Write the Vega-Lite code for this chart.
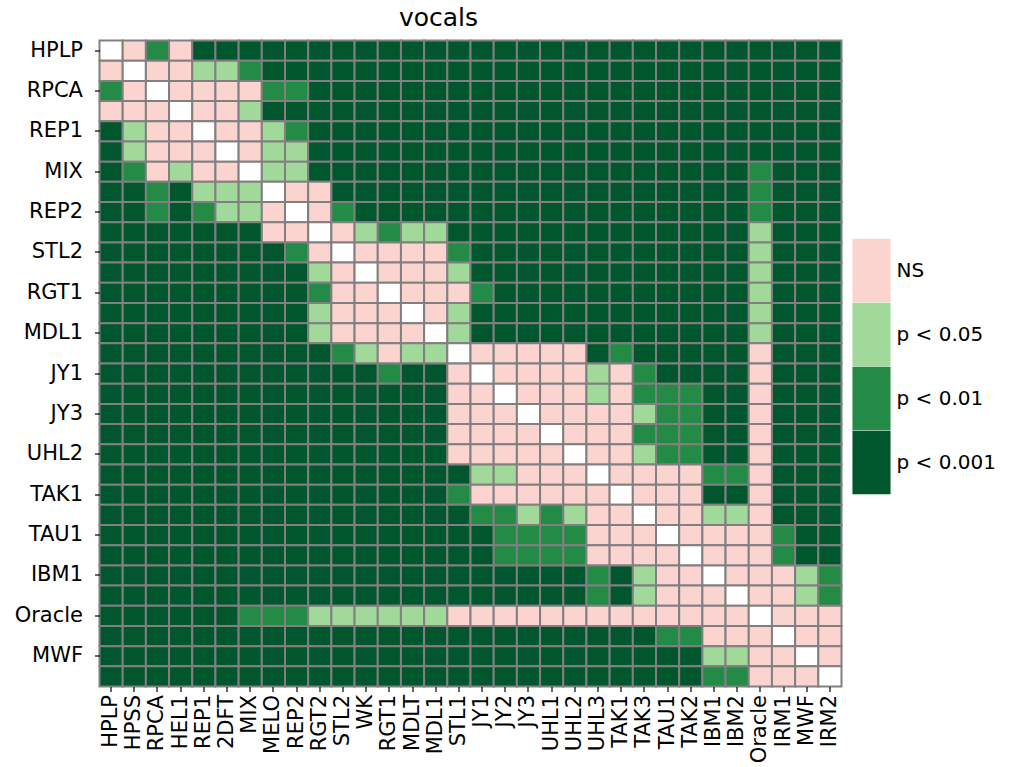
{
  "$schema": "https://vega.github.io/schema/vega-lite/v6.json",
  "width": 742,
  "height": 646,
  "autosize": {"type": "none"},
  "padding": {"left": 99.5, "top": 40.5, "right": 171.5, "bottom": 80.5},
  "background": "white",
  "config": {"view": {"stroke": null}, "font": "DejaVu Sans"},
  "title": {"text": "vocals", "fontSize": 25, "fontWeight": "normal", "color": "#000000", "font": "DejaVu Sans", "anchor": "middle", "offset": 8, "dx": -32},
  "data": {"values": [
    {"r":"HPLP","c":"HPLP","p":-1},{"r":"HPLP","c":"HPSS","p":0},{"r":"HPLP","c":"RPCA","p":2},{"r":"HPLP","c":"HEL1","p":0},{"r":"HPLP","c":"REP1","p":3},{"r":"HPLP","c":"2DFT","p":3},{"r":"HPLP","c":"MIX","p":3},{"r":"HPLP","c":"MELO","p":3},{"r":"HPLP","c":"REP2","p":3},{"r":"HPLP","c":"RGT2","p":3},{"r":"HPLP","c":"STL2","p":3},{"r":"HPLP","c":"WK","p":3},{"r":"HPLP","c":"RGT1","p":3},{"r":"HPLP","c":"MDLT","p":3},{"r":"HPLP","c":"MDL1","p":3},{"r":"HPLP","c":"STL1","p":3},{"r":"HPLP","c":"JY1","p":3},{"r":"HPLP","c":"JY2","p":3},{"r":"HPLP","c":"JY3","p":3},{"r":"HPLP","c":"UHL1","p":3},{"r":"HPLP","c":"UHL2","p":3},{"r":"HPLP","c":"UHL3","p":3},{"r":"HPLP","c":"TAK1","p":3},{"r":"HPLP","c":"TAK3","p":3},{"r":"HPLP","c":"TAU1","p":3},{"r":"HPLP","c":"TAK2","p":3},{"r":"HPLP","c":"IBM1","p":3},{"r":"HPLP","c":"IBM2","p":3},{"r":"HPLP","c":"Oracle","p":3},{"r":"HPLP","c":"IRM1","p":3},{"r":"HPLP","c":"MWF","p":3},{"r":"HPLP","c":"IRM2","p":3},
    {"r":"HPSS","c":"HPLP","p":0},{"r":"HPSS","c":"HPSS","p":-1},{"r":"HPSS","c":"RPCA","p":0},{"r":"HPSS","c":"HEL1","p":0},{"r":"HPSS","c":"REP1","p":1},{"r":"HPSS","c":"2DFT","p":1},{"r":"HPSS","c":"MIX","p":2},{"r":"HPSS","c":"MELO","p":3},{"r":"HPSS","c":"REP2","p":3},{"r":"HPSS","c":"RGT2","p":3},{"r":"HPSS","c":"STL2","p":3},{"r":"HPSS","c":"WK","p":3},{"r":"HPSS","c":"RGT1","p":3},{"r":"HPSS","c":"MDLT","p":3},{"r":"HPSS","c":"MDL1","p":3},{"r":"HPSS","c":"STL1","p":3},{"r":"HPSS","c":"JY1","p":3},{"r":"HPSS","c":"JY2","p":3},{"r":"HPSS","c":"JY3","p":3},{"r":"HPSS","c":"UHL1","p":3},{"r":"HPSS","c":"UHL2","p":3},{"r":"HPSS","c":"UHL3","p":3},{"r":"HPSS","c":"TAK1","p":3},{"r":"HPSS","c":"TAK3","p":3},{"r":"HPSS","c":"TAU1","p":3},{"r":"HPSS","c":"TAK2","p":3},{"r":"HPSS","c":"IBM1","p":3},{"r":"HPSS","c":"IBM2","p":3},{"r":"HPSS","c":"Oracle","p":3},{"r":"HPSS","c":"IRM1","p":3},{"r":"HPSS","c":"MWF","p":3},{"r":"HPSS","c":"IRM2","p":3},
    {"r":"RPCA","c":"HPLP","p":2},{"r":"RPCA","c":"HPSS","p":0},{"r":"RPCA","c":"RPCA","p":-1},{"r":"RPCA","c":"HEL1","p":0},{"r":"RPCA","c":"REP1","p":0},{"r":"RPCA","c":"2DFT","p":0},{"r":"RPCA","c":"MIX","p":0},{"r":"RPCA","c":"MELO","p":2},{"r":"RPCA","c":"REP2","p":2},{"r":"RPCA","c":"RGT2","p":3},{"r":"RPCA","c":"STL2","p":3},{"r":"RPCA","c":"WK","p":3},{"r":"RPCA","c":"RGT1","p":3},{"r":"RPCA","c":"MDLT","p":3},{"r":"RPCA","c":"MDL1","p":3},{"r":"RPCA","c":"STL1","p":3},{"r":"RPCA","c":"JY1","p":3},{"r":"RPCA","c":"JY2","p":3},{"r":"RPCA","c":"JY3","p":3},{"r":"RPCA","c":"UHL1","p":3},{"r":"RPCA","c":"UHL2","p":3},{"r":"RPCA","c":"UHL3","p":3},{"r":"RPCA","c":"TAK1","p":3},{"r":"RPCA","c":"TAK3","p":3},{"r":"RPCA","c":"TAU1","p":3},{"r":"RPCA","c":"TAK2","p":3},{"r":"RPCA","c":"IBM1","p":3},{"r":"RPCA","c":"IBM2","p":3},{"r":"RPCA","c":"Oracle","p":3},{"r":"RPCA","c":"IRM1","p":3},{"r":"RPCA","c":"MWF","p":3},{"r":"RPCA","c":"IRM2","p":3},
    {"r":"HEL1","c":"HPLP","p":0},{"r":"HEL1","c":"HPSS","p":0},{"r":"HEL1","c":"RPCA","p":0},{"r":"HEL1","c":"HEL1","p":-1},{"r":"HEL1","c":"REP1","p":0},{"r":"HEL1","c":"2DFT","p":0},{"r":"HEL1","c":"MIX","p":1},{"r":"HEL1","c":"MELO","p":3},{"r":"HEL1","c":"REP2","p":3},{"r":"HEL1","c":"RGT2","p":3},{"r":"HEL1","c":"STL2","p":3},{"r":"HEL1","c":"WK","p":3},{"r":"HEL1","c":"RGT1","p":3},{"r":"HEL1","c":"MDLT","p":3},{"r":"HEL1","c":"MDL1","p":3},{"r":"HEL1","c":"STL1","p":3},{"r":"HEL1","c":"JY1","p":3},{"r":"HEL1","c":"JY2","p":3},{"r":"HEL1","c":"JY3","p":3},{"r":"HEL1","c":"UHL1","p":3},{"r":"HEL1","c":"UHL2","p":3},{"r":"HEL1","c":"UHL3","p":3},{"r":"HEL1","c":"TAK1","p":3},{"r":"HEL1","c":"TAK3","p":3},{"r":"HEL1","c":"TAU1","p":3},{"r":"HEL1","c":"TAK2","p":3},{"r":"HEL1","c":"IBM1","p":3},{"r":"HEL1","c":"IBM2","p":3},{"r":"HEL1","c":"Oracle","p":3},{"r":"HEL1","c":"IRM1","p":3},{"r":"HEL1","c":"MWF","p":3},{"r":"HEL1","c":"IRM2","p":3},
    {"r":"REP1","c":"HPLP","p":3},{"r":"REP1","c":"HPSS","p":1},{"r":"REP1","c":"RPCA","p":0},{"r":"REP1","c":"HEL1","p":0},{"r":"REP1","c":"REP1","p":-1},{"r":"REP1","c":"2DFT","p":0},{"r":"REP1","c":"MIX","p":0},{"r":"REP1","c":"MELO","p":1},{"r":"REP1","c":"REP2","p":2},{"r":"REP1","c":"RGT2","p":3},{"r":"REP1","c":"STL2","p":3},{"r":"REP1","c":"WK","p":3},{"r":"REP1","c":"RGT1","p":3},{"r":"REP1","c":"MDLT","p":3},{"r":"REP1","c":"MDL1","p":3},{"r":"REP1","c":"STL1","p":3},{"r":"REP1","c":"JY1","p":3},{"r":"REP1","c":"JY2","p":3},{"r":"REP1","c":"JY3","p":3},{"r":"REP1","c":"UHL1","p":3},{"r":"REP1","c":"UHL2","p":3},{"r":"REP1","c":"UHL3","p":3},{"r":"REP1","c":"TAK1","p":3},{"r":"REP1","c":"TAK3","p":3},{"r":"REP1","c":"TAU1","p":3},{"r":"REP1","c":"TAK2","p":3},{"r":"REP1","c":"IBM1","p":3},{"r":"REP1","c":"IBM2","p":3},{"r":"REP1","c":"Oracle","p":3},{"r":"REP1","c":"IRM1","p":3},{"r":"REP1","c":"MWF","p":3},{"r":"REP1","c":"IRM2","p":3},
    {"r":"2DFT","c":"HPLP","p":3},{"r":"2DFT","c":"HPSS","p":1},{"r":"2DFT","c":"RPCA","p":0},{"r":"2DFT","c":"HEL1","p":0},{"r":"2DFT","c":"REP1","p":0},{"r":"2DFT","c":"2DFT","p":-1},{"r":"2DFT","c":"MIX","p":0},{"r":"2DFT","c":"MELO","p":1},{"r":"2DFT","c":"REP2","p":1},{"r":"2DFT","c":"RGT2","p":3},{"r":"2DFT","c":"STL2","p":3},{"r":"2DFT","c":"WK","p":3},{"r":"2DFT","c":"RGT1","p":3},{"r":"2DFT","c":"MDLT","p":3},{"r":"2DFT","c":"MDL1","p":3},{"r":"2DFT","c":"STL1","p":3},{"r":"2DFT","c":"JY1","p":3},{"r":"2DFT","c":"JY2","p":3},{"r":"2DFT","c":"JY3","p":3},{"r":"2DFT","c":"UHL1","p":3},{"r":"2DFT","c":"UHL2","p":3},{"r":"2DFT","c":"UHL3","p":3},{"r":"2DFT","c":"TAK1","p":3},{"r":"2DFT","c":"TAK3","p":3},{"r":"2DFT","c":"TAU1","p":3},{"r":"2DFT","c":"TAK2","p":3},{"r":"2DFT","c":"IBM1","p":3},{"r":"2DFT","c":"IBM2","p":3},{"r":"2DFT","c":"Oracle","p":3},{"r":"2DFT","c":"IRM1","p":3},{"r":"2DFT","c":"MWF","p":3},{"r":"2DFT","c":"IRM2","p":3},
    {"r":"MIX","c":"HPLP","p":3},{"r":"MIX","c":"HPSS","p":2},{"r":"MIX","c":"RPCA","p":0},{"r":"MIX","c":"HEL1","p":1},{"r":"MIX","c":"REP1","p":0},{"r":"MIX","c":"2DFT","p":0},{"r":"MIX","c":"MIX","p":-1},{"r":"MIX","c":"MELO","p":1},{"r":"MIX","c":"REP2","p":1},{"r":"MIX","c":"RGT2","p":3},{"r":"MIX","c":"STL2","p":3},{"r":"MIX","c":"WK","p":3},{"r":"MIX","c":"RGT1","p":3},{"r":"MIX","c":"MDLT","p":3},{"r":"MIX","c":"MDL1","p":3},{"r":"MIX","c":"STL1","p":3},{"r":"MIX","c":"JY1","p":3},{"r":"MIX","c":"JY2","p":3},{"r":"MIX","c":"JY3","p":3},{"r":"MIX","c":"UHL1","p":3},{"r":"MIX","c":"UHL2","p":3},{"r":"MIX","c":"UHL3","p":3},{"r":"MIX","c":"TAK1","p":3},{"r":"MIX","c":"TAK3","p":3},{"r":"MIX","c":"TAU1","p":3},{"r":"MIX","c":"TAK2","p":3},{"r":"MIX","c":"IBM1","p":3},{"r":"MIX","c":"IBM2","p":3},{"r":"MIX","c":"Oracle","p":2},{"r":"MIX","c":"IRM1","p":3},{"r":"MIX","c":"MWF","p":3},{"r":"MIX","c":"IRM2","p":3},
    {"r":"MELO","c":"HPLP","p":3},{"r":"MELO","c":"HPSS","p":3},{"r":"MELO","c":"RPCA","p":2},{"r":"MELO","c":"HEL1","p":3},{"r":"MELO","c":"REP1","p":1},{"r":"MELO","c":"2DFT","p":1},{"r":"MELO","c":"MIX","p":1},{"r":"MELO","c":"MELO","p":-1},{"r":"MELO","c":"REP2","p":0},{"r":"MELO","c":"RGT2","p":0},{"r":"MELO","c":"STL2","p":3},{"r":"MELO","c":"WK","p":3},{"r":"MELO","c":"RGT1","p":3},{"r":"MELO","c":"MDLT","p":3},{"r":"MELO","c":"MDL1","p":3},{"r":"MELO","c":"STL1","p":3},{"r":"MELO","c":"JY1","p":3},{"r":"MELO","c":"JY2","p":3},{"r":"MELO","c":"JY3","p":3},{"r":"MELO","c":"UHL1","p":3},{"r":"MELO","c":"UHL2","p":3},{"r":"MELO","c":"UHL3","p":3},{"r":"MELO","c":"TAK1","p":3},{"r":"MELO","c":"TAK3","p":3},{"r":"MELO","c":"TAU1","p":3},{"r":"MELO","c":"TAK2","p":3},{"r":"MELO","c":"IBM1","p":3},{"r":"MELO","c":"IBM2","p":3},{"r":"MELO","c":"Oracle","p":2},{"r":"MELO","c":"IRM1","p":3},{"r":"MELO","c":"MWF","p":3},{"r":"MELO","c":"IRM2","p":3},
    {"r":"REP2","c":"HPLP","p":3},{"r":"REP2","c":"HPSS","p":3},{"r":"REP2","c":"RPCA","p":2},{"r":"REP2","c":"HEL1","p":3},{"r":"REP2","c":"REP1","p":2},{"r":"REP2","c":"2DFT","p":1},{"r":"REP2","c":"MIX","p":1},{"r":"REP2","c":"MELO","p":0},{"r":"REP2","c":"REP2","p":-1},{"r":"REP2","c":"RGT2","p":0},{"r":"REP2","c":"STL2","p":2},{"r":"REP2","c":"WK","p":3},{"r":"REP2","c":"RGT1","p":3},{"r":"REP2","c":"MDLT","p":3},{"r":"REP2","c":"MDL1","p":3},{"r":"REP2","c":"STL1","p":3},{"r":"REP2","c":"JY1","p":3},{"r":"REP2","c":"JY2","p":3},{"r":"REP2","c":"JY3","p":3},{"r":"REP2","c":"UHL1","p":3},{"r":"REP2","c":"UHL2","p":3},{"r":"REP2","c":"UHL3","p":3},{"r":"REP2","c":"TAK1","p":3},{"r":"REP2","c":"TAK3","p":3},{"r":"REP2","c":"TAU1","p":3},{"r":"REP2","c":"TAK2","p":3},{"r":"REP2","c":"IBM1","p":3},{"r":"REP2","c":"IBM2","p":3},{"r":"REP2","c":"Oracle","p":2},{"r":"REP2","c":"IRM1","p":3},{"r":"REP2","c":"MWF","p":3},{"r":"REP2","c":"IRM2","p":3},
    {"r":"RGT2","c":"HPLP","p":3},{"r":"RGT2","c":"HPSS","p":3},{"r":"RGT2","c":"RPCA","p":3},{"r":"RGT2","c":"HEL1","p":3},{"r":"RGT2","c":"REP1","p":3},{"r":"RGT2","c":"2DFT","p":3},{"r":"RGT2","c":"MIX","p":3},{"r":"RGT2","c":"MELO","p":0},{"r":"RGT2","c":"REP2","p":0},{"r":"RGT2","c":"RGT2","p":-1},{"r":"RGT2","c":"STL2","p":0},{"r":"RGT2","c":"WK","p":1},{"r":"RGT2","c":"RGT1","p":2},{"r":"RGT2","c":"MDLT","p":1},{"r":"RGT2","c":"MDL1","p":1},{"r":"RGT2","c":"STL1","p":3},{"r":"RGT2","c":"JY1","p":3},{"r":"RGT2","c":"JY2","p":3},{"r":"RGT2","c":"JY3","p":3},{"r":"RGT2","c":"UHL1","p":3},{"r":"RGT2","c":"UHL2","p":3},{"r":"RGT2","c":"UHL3","p":3},{"r":"RGT2","c":"TAK1","p":3},{"r":"RGT2","c":"TAK3","p":3},{"r":"RGT2","c":"TAU1","p":3},{"r":"RGT2","c":"TAK2","p":3},{"r":"RGT2","c":"IBM1","p":3},{"r":"RGT2","c":"IBM2","p":3},{"r":"RGT2","c":"Oracle","p":1},{"r":"RGT2","c":"IRM1","p":3},{"r":"RGT2","c":"MWF","p":3},{"r":"RGT2","c":"IRM2","p":3},
    {"r":"STL2","c":"HPLP","p":3},{"r":"STL2","c":"HPSS","p":3},{"r":"STL2","c":"RPCA","p":3},{"r":"STL2","c":"HEL1","p":3},{"r":"STL2","c":"REP1","p":3},{"r":"STL2","c":"2DFT","p":3},{"r":"STL2","c":"MIX","p":3},{"r":"STL2","c":"MELO","p":3},{"r":"STL2","c":"REP2","p":2},{"r":"STL2","c":"RGT2","p":0},{"r":"STL2","c":"STL2","p":-1},{"r":"STL2","c":"WK","p":0},{"r":"STL2","c":"RGT1","p":0},{"r":"STL2","c":"MDLT","p":0},{"r":"STL2","c":"MDL1","p":0},{"r":"STL2","c":"STL1","p":2},{"r":"STL2","c":"JY1","p":3},{"r":"STL2","c":"JY2","p":3},{"r":"STL2","c":"JY3","p":3},{"r":"STL2","c":"UHL1","p":3},{"r":"STL2","c":"UHL2","p":3},{"r":"STL2","c":"UHL3","p":3},{"r":"STL2","c":"TAK1","p":3},{"r":"STL2","c":"TAK3","p":3},{"r":"STL2","c":"TAU1","p":3},{"r":"STL2","c":"TAK2","p":3},{"r":"STL2","c":"IBM1","p":3},{"r":"STL2","c":"IBM2","p":3},{"r":"STL2","c":"Oracle","p":1},{"r":"STL2","c":"IRM1","p":3},{"r":"STL2","c":"MWF","p":3},{"r":"STL2","c":"IRM2","p":3},
    {"r":"WK","c":"HPLP","p":3},{"r":"WK","c":"HPSS","p":3},{"r":"WK","c":"RPCA","p":3},{"r":"WK","c":"HEL1","p":3},{"r":"WK","c":"REP1","p":3},{"r":"WK","c":"2DFT","p":3},{"r":"WK","c":"MIX","p":3},{"r":"WK","c":"MELO","p":3},{"r":"WK","c":"REP2","p":3},{"r":"WK","c":"RGT2","p":1},{"r":"WK","c":"STL2","p":0},{"r":"WK","c":"WK","p":-1},{"r":"WK","c":"RGT1","p":0},{"r":"WK","c":"MDLT","p":0},{"r":"WK","c":"MDL1","p":0},{"r":"WK","c":"STL1","p":1},{"r":"WK","c":"JY1","p":3},{"r":"WK","c":"JY2","p":3},{"r":"WK","c":"JY3","p":3},{"r":"WK","c":"UHL1","p":3},{"r":"WK","c":"UHL2","p":3},{"r":"WK","c":"UHL3","p":3},{"r":"WK","c":"TAK1","p":3},{"r":"WK","c":"TAK3","p":3},{"r":"WK","c":"TAU1","p":3},{"r":"WK","c":"TAK2","p":3},{"r":"WK","c":"IBM1","p":3},{"r":"WK","c":"IBM2","p":3},{"r":"WK","c":"Oracle","p":1},{"r":"WK","c":"IRM1","p":3},{"r":"WK","c":"MWF","p":3},{"r":"WK","c":"IRM2","p":3},
    {"r":"RGT1","c":"HPLP","p":3},{"r":"RGT1","c":"HPSS","p":3},{"r":"RGT1","c":"RPCA","p":3},{"r":"RGT1","c":"HEL1","p":3},{"r":"RGT1","c":"REP1","p":3},{"r":"RGT1","c":"2DFT","p":3},{"r":"RGT1","c":"MIX","p":3},{"r":"RGT1","c":"MELO","p":3},{"r":"RGT1","c":"REP2","p":3},{"r":"RGT1","c":"RGT2","p":2},{"r":"RGT1","c":"STL2","p":0},{"r":"RGT1","c":"WK","p":0},{"r":"RGT1","c":"RGT1","p":-1},{"r":"RGT1","c":"MDLT","p":0},{"r":"RGT1","c":"MDL1","p":0},{"r":"RGT1","c":"STL1","p":0},{"r":"RGT1","c":"JY1","p":2},{"r":"RGT1","c":"JY2","p":3},{"r":"RGT1","c":"JY3","p":3},{"r":"RGT1","c":"UHL1","p":3},{"r":"RGT1","c":"UHL2","p":3},{"r":"RGT1","c":"UHL3","p":3},{"r":"RGT1","c":"TAK1","p":3},{"r":"RGT1","c":"TAK3","p":3},{"r":"RGT1","c":"TAU1","p":3},{"r":"RGT1","c":"TAK2","p":3},{"r":"RGT1","c":"IBM1","p":3},{"r":"RGT1","c":"IBM2","p":3},{"r":"RGT1","c":"Oracle","p":1},{"r":"RGT1","c":"IRM1","p":3},{"r":"RGT1","c":"MWF","p":3},{"r":"RGT1","c":"IRM2","p":3},
    {"r":"MDLT","c":"HPLP","p":3},{"r":"MDLT","c":"HPSS","p":3},{"r":"MDLT","c":"RPCA","p":3},{"r":"MDLT","c":"HEL1","p":3},{"r":"MDLT","c":"REP1","p":3},{"r":"MDLT","c":"2DFT","p":3},{"r":"MDLT","c":"MIX","p":3},{"r":"MDLT","c":"MELO","p":3},{"r":"MDLT","c":"REP2","p":3},{"r":"MDLT","c":"RGT2","p":1},{"r":"MDLT","c":"STL2","p":0},{"r":"MDLT","c":"WK","p":0},{"r":"MDLT","c":"RGT1","p":0},{"r":"MDLT","c":"MDLT","p":-1},{"r":"MDLT","c":"MDL1","p":0},{"r":"MDLT","c":"STL1","p":1},{"r":"MDLT","c":"JY1","p":3},{"r":"MDLT","c":"JY2","p":3},{"r":"MDLT","c":"JY3","p":3},{"r":"MDLT","c":"UHL1","p":3},{"r":"MDLT","c":"UHL2","p":3},{"r":"MDLT","c":"UHL3","p":3},{"r":"MDLT","c":"TAK1","p":3},{"r":"MDLT","c":"TAK3","p":3},{"r":"MDLT","c":"TAU1","p":3},{"r":"MDLT","c":"TAK2","p":3},{"r":"MDLT","c":"IBM1","p":3},{"r":"MDLT","c":"IBM2","p":3},{"r":"MDLT","c":"Oracle","p":1},{"r":"MDLT","c":"IRM1","p":3},{"r":"MDLT","c":"MWF","p":3},{"r":"MDLT","c":"IRM2","p":3},
    {"r":"MDL1","c":"HPLP","p":3},{"r":"MDL1","c":"HPSS","p":3},{"r":"MDL1","c":"RPCA","p":3},{"r":"MDL1","c":"HEL1","p":3},{"r":"MDL1","c":"REP1","p":3},{"r":"MDL1","c":"2DFT","p":3},{"r":"MDL1","c":"MIX","p":3},{"r":"MDL1","c":"MELO","p":3},{"r":"MDL1","c":"REP2","p":3},{"r":"MDL1","c":"RGT2","p":1},{"r":"MDL1","c":"STL2","p":0},{"r":"MDL1","c":"WK","p":0},{"r":"MDL1","c":"RGT1","p":0},{"r":"MDL1","c":"MDLT","p":0},{"r":"MDL1","c":"MDL1","p":-1},{"r":"MDL1","c":"STL1","p":1},{"r":"MDL1","c":"JY1","p":3},{"r":"MDL1","c":"JY2","p":3},{"r":"MDL1","c":"JY3","p":3},{"r":"MDL1","c":"UHL1","p":3},{"r":"MDL1","c":"UHL2","p":3},{"r":"MDL1","c":"UHL3","p":3},{"r":"MDL1","c":"TAK1","p":3},{"r":"MDL1","c":"TAK3","p":3},{"r":"MDL1","c":"TAU1","p":3},{"r":"MDL1","c":"TAK2","p":3},{"r":"MDL1","c":"IBM1","p":3},{"r":"MDL1","c":"IBM2","p":3},{"r":"MDL1","c":"Oracle","p":1},{"r":"MDL1","c":"IRM1","p":3},{"r":"MDL1","c":"MWF","p":3},{"r":"MDL1","c":"IRM2","p":3},
    {"r":"STL1","c":"HPLP","p":3},{"r":"STL1","c":"HPSS","p":3},{"r":"STL1","c":"RPCA","p":3},{"r":"STL1","c":"HEL1","p":3},{"r":"STL1","c":"REP1","p":3},{"r":"STL1","c":"2DFT","p":3},{"r":"STL1","c":"MIX","p":3},{"r":"STL1","c":"MELO","p":3},{"r":"STL1","c":"REP2","p":3},{"r":"STL1","c":"RGT2","p":3},{"r":"STL1","c":"STL2","p":2},{"r":"STL1","c":"WK","p":1},{"r":"STL1","c":"RGT1","p":0},{"r":"STL1","c":"MDLT","p":1},{"r":"STL1","c":"MDL1","p":1},{"r":"STL1","c":"STL1","p":-1},{"r":"STL1","c":"JY1","p":0},{"r":"STL1","c":"JY2","p":0},{"r":"STL1","c":"JY3","p":0},{"r":"STL1","c":"UHL1","p":0},{"r":"STL1","c":"UHL2","p":0},{"r":"STL1","c":"UHL3","p":3},{"r":"STL1","c":"TAK1","p":2},{"r":"STL1","c":"TAK3","p":3},{"r":"STL1","c":"TAU1","p":3},{"r":"STL1","c":"TAK2","p":3},{"r":"STL1","c":"IBM1","p":3},{"r":"STL1","c":"IBM2","p":3},{"r":"STL1","c":"Oracle","p":0},{"r":"STL1","c":"IRM1","p":3},{"r":"STL1","c":"MWF","p":3},{"r":"STL1","c":"IRM2","p":3},
    {"r":"JY1","c":"HPLP","p":3},{"r":"JY1","c":"HPSS","p":3},{"r":"JY1","c":"RPCA","p":3},{"r":"JY1","c":"HEL1","p":3},{"r":"JY1","c":"REP1","p":3},{"r":"JY1","c":"2DFT","p":3},{"r":"JY1","c":"MIX","p":3},{"r":"JY1","c":"MELO","p":3},{"r":"JY1","c":"REP2","p":3},{"r":"JY1","c":"RGT2","p":3},{"r":"JY1","c":"STL2","p":3},{"r":"JY1","c":"WK","p":3},{"r":"JY1","c":"RGT1","p":2},{"r":"JY1","c":"MDLT","p":3},{"r":"JY1","c":"MDL1","p":3},{"r":"JY1","c":"STL1","p":0},{"r":"JY1","c":"JY1","p":-1},{"r":"JY1","c":"JY2","p":0},{"r":"JY1","c":"JY3","p":0},{"r":"JY1","c":"UHL1","p":0},{"r":"JY1","c":"UHL2","p":0},{"r":"JY1","c":"UHL3","p":1},{"r":"JY1","c":"TAK1","p":0},{"r":"JY1","c":"TAK3","p":2},{"r":"JY1","c":"TAU1","p":3},{"r":"JY1","c":"TAK2","p":3},{"r":"JY1","c":"IBM1","p":3},{"r":"JY1","c":"IBM2","p":3},{"r":"JY1","c":"Oracle","p":0},{"r":"JY1","c":"IRM1","p":3},{"r":"JY1","c":"MWF","p":3},{"r":"JY1","c":"IRM2","p":3},
    {"r":"JY2","c":"HPLP","p":3},{"r":"JY2","c":"HPSS","p":3},{"r":"JY2","c":"RPCA","p":3},{"r":"JY2","c":"HEL1","p":3},{"r":"JY2","c":"REP1","p":3},{"r":"JY2","c":"2DFT","p":3},{"r":"JY2","c":"MIX","p":3},{"r":"JY2","c":"MELO","p":3},{"r":"JY2","c":"REP2","p":3},{"r":"JY2","c":"RGT2","p":3},{"r":"JY2","c":"STL2","p":3},{"r":"JY2","c":"WK","p":3},{"r":"JY2","c":"RGT1","p":3},{"r":"JY2","c":"MDLT","p":3},{"r":"JY2","c":"MDL1","p":3},{"r":"JY2","c":"STL1","p":0},{"r":"JY2","c":"JY1","p":0},{"r":"JY2","c":"JY2","p":-1},{"r":"JY2","c":"JY3","p":0},{"r":"JY2","c":"UHL1","p":0},{"r":"JY2","c":"UHL2","p":0},{"r":"JY2","c":"UHL3","p":1},{"r":"JY2","c":"TAK1","p":0},{"r":"JY2","c":"TAK3","p":2},{"r":"JY2","c":"TAU1","p":2},{"r":"JY2","c":"TAK2","p":2},{"r":"JY2","c":"IBM1","p":3},{"r":"JY2","c":"IBM2","p":3},{"r":"JY2","c":"Oracle","p":0},{"r":"JY2","c":"IRM1","p":3},{"r":"JY2","c":"MWF","p":3},{"r":"JY2","c":"IRM2","p":3},
    {"r":"JY3","c":"HPLP","p":3},{"r":"JY3","c":"HPSS","p":3},{"r":"JY3","c":"RPCA","p":3},{"r":"JY3","c":"HEL1","p":3},{"r":"JY3","c":"REP1","p":3},{"r":"JY3","c":"2DFT","p":3},{"r":"JY3","c":"MIX","p":3},{"r":"JY3","c":"MELO","p":3},{"r":"JY3","c":"REP2","p":3},{"r":"JY3","c":"RGT2","p":3},{"r":"JY3","c":"STL2","p":3},{"r":"JY3","c":"WK","p":3},{"r":"JY3","c":"RGT1","p":3},{"r":"JY3","c":"MDLT","p":3},{"r":"JY3","c":"MDL1","p":3},{"r":"JY3","c":"STL1","p":0},{"r":"JY3","c":"JY1","p":0},{"r":"JY3","c":"JY2","p":0},{"r":"JY3","c":"JY3","p":-1},{"r":"JY3","c":"UHL1","p":0},{"r":"JY3","c":"UHL2","p":0},{"r":"JY3","c":"UHL3","p":0},{"r":"JY3","c":"TAK1","p":0},{"r":"JY3","c":"TAK3","p":1},{"r":"JY3","c":"TAU1","p":2},{"r":"JY3","c":"TAK2","p":2},{"r":"JY3","c":"IBM1","p":3},{"r":"JY3","c":"IBM2","p":3},{"r":"JY3","c":"Oracle","p":0},{"r":"JY3","c":"IRM1","p":3},{"r":"JY3","c":"MWF","p":3},{"r":"JY3","c":"IRM2","p":3},
    {"r":"UHL1","c":"HPLP","p":3},{"r":"UHL1","c":"HPSS","p":3},{"r":"UHL1","c":"RPCA","p":3},{"r":"UHL1","c":"HEL1","p":3},{"r":"UHL1","c":"REP1","p":3},{"r":"UHL1","c":"2DFT","p":3},{"r":"UHL1","c":"MIX","p":3},{"r":"UHL1","c":"MELO","p":3},{"r":"UHL1","c":"REP2","p":3},{"r":"UHL1","c":"RGT2","p":3},{"r":"UHL1","c":"STL2","p":3},{"r":"UHL1","c":"WK","p":3},{"r":"UHL1","c":"RGT1","p":3},{"r":"UHL1","c":"MDLT","p":3},{"r":"UHL1","c":"MDL1","p":3},{"r":"UHL1","c":"STL1","p":0},{"r":"UHL1","c":"JY1","p":0},{"r":"UHL1","c":"JY2","p":0},{"r":"UHL1","c":"JY3","p":0},{"r":"UHL1","c":"UHL1","p":-1},{"r":"UHL1","c":"UHL2","p":0},{"r":"UHL1","c":"UHL3","p":0},{"r":"UHL1","c":"TAK1","p":0},{"r":"UHL1","c":"TAK3","p":2},{"r":"UHL1","c":"TAU1","p":2},{"r":"UHL1","c":"TAK2","p":2},{"r":"UHL1","c":"IBM1","p":3},{"r":"UHL1","c":"IBM2","p":3},{"r":"UHL1","c":"Oracle","p":0},{"r":"UHL1","c":"IRM1","p":3},{"r":"UHL1","c":"MWF","p":3},{"r":"UHL1","c":"IRM2","p":3},
    {"r":"UHL2","c":"HPLP","p":3},{"r":"UHL2","c":"HPSS","p":3},{"r":"UHL2","c":"RPCA","p":3},{"r":"UHL2","c":"HEL1","p":3},{"r":"UHL2","c":"REP1","p":3},{"r":"UHL2","c":"2DFT","p":3},{"r":"UHL2","c":"MIX","p":3},{"r":"UHL2","c":"MELO","p":3},{"r":"UHL2","c":"REP2","p":3},{"r":"UHL2","c":"RGT2","p":3},{"r":"UHL2","c":"STL2","p":3},{"r":"UHL2","c":"WK","p":3},{"r":"UHL2","c":"RGT1","p":3},{"r":"UHL2","c":"MDLT","p":3},{"r":"UHL2","c":"MDL1","p":3},{"r":"UHL2","c":"STL1","p":0},{"r":"UHL2","c":"JY1","p":0},{"r":"UHL2","c":"JY2","p":0},{"r":"UHL2","c":"JY3","p":0},{"r":"UHL2","c":"UHL1","p":0},{"r":"UHL2","c":"UHL2","p":-1},{"r":"UHL2","c":"UHL3","p":0},{"r":"UHL2","c":"TAK1","p":0},{"r":"UHL2","c":"TAK3","p":1},{"r":"UHL2","c":"TAU1","p":2},{"r":"UHL2","c":"TAK2","p":2},{"r":"UHL2","c":"IBM1","p":3},{"r":"UHL2","c":"IBM2","p":3},{"r":"UHL2","c":"Oracle","p":0},{"r":"UHL2","c":"IRM1","p":3},{"r":"UHL2","c":"MWF","p":3},{"r":"UHL2","c":"IRM2","p":3},
    {"r":"UHL3","c":"HPLP","p":3},{"r":"UHL3","c":"HPSS","p":3},{"r":"UHL3","c":"RPCA","p":3},{"r":"UHL3","c":"HEL1","p":3},{"r":"UHL3","c":"REP1","p":3},{"r":"UHL3","c":"2DFT","p":3},{"r":"UHL3","c":"MIX","p":3},{"r":"UHL3","c":"MELO","p":3},{"r":"UHL3","c":"REP2","p":3},{"r":"UHL3","c":"RGT2","p":3},{"r":"UHL3","c":"STL2","p":3},{"r":"UHL3","c":"WK","p":3},{"r":"UHL3","c":"RGT1","p":3},{"r":"UHL3","c":"MDLT","p":3},{"r":"UHL3","c":"MDL1","p":3},{"r":"UHL3","c":"STL1","p":3},{"r":"UHL3","c":"JY1","p":1},{"r":"UHL3","c":"JY2","p":1},{"r":"UHL3","c":"JY3","p":0},{"r":"UHL3","c":"UHL1","p":0},{"r":"UHL3","c":"UHL2","p":0},{"r":"UHL3","c":"UHL3","p":-1},{"r":"UHL3","c":"TAK1","p":0},{"r":"UHL3","c":"TAK3","p":0},{"r":"UHL3","c":"TAU1","p":0},{"r":"UHL3","c":"TAK2","p":0},{"r":"UHL3","c":"IBM1","p":2},{"r":"UHL3","c":"IBM2","p":2},{"r":"UHL3","c":"Oracle","p":0},{"r":"UHL3","c":"IRM1","p":3},{"r":"UHL3","c":"MWF","p":3},{"r":"UHL3","c":"IRM2","p":3},
    {"r":"TAK1","c":"HPLP","p":3},{"r":"TAK1","c":"HPSS","p":3},{"r":"TAK1","c":"RPCA","p":3},{"r":"TAK1","c":"HEL1","p":3},{"r":"TAK1","c":"REP1","p":3},{"r":"TAK1","c":"2DFT","p":3},{"r":"TAK1","c":"MIX","p":3},{"r":"TAK1","c":"MELO","p":3},{"r":"TAK1","c":"REP2","p":3},{"r":"TAK1","c":"RGT2","p":3},{"r":"TAK1","c":"STL2","p":3},{"r":"TAK1","c":"WK","p":3},{"r":"TAK1","c":"RGT1","p":3},{"r":"TAK1","c":"MDLT","p":3},{"r":"TAK1","c":"MDL1","p":3},{"r":"TAK1","c":"STL1","p":2},{"r":"TAK1","c":"JY1","p":0},{"r":"TAK1","c":"JY2","p":0},{"r":"TAK1","c":"JY3","p":0},{"r":"TAK1","c":"UHL1","p":0},{"r":"TAK1","c":"UHL2","p":0},{"r":"TAK1","c":"UHL3","p":0},{"r":"TAK1","c":"TAK1","p":-1},{"r":"TAK1","c":"TAK3","p":0},{"r":"TAK1","c":"TAU1","p":0},{"r":"TAK1","c":"TAK2","p":0},{"r":"TAK1","c":"IBM1","p":3},{"r":"TAK1","c":"IBM2","p":3},{"r":"TAK1","c":"Oracle","p":0},{"r":"TAK1","c":"IRM1","p":3},{"r":"TAK1","c":"MWF","p":3},{"r":"TAK1","c":"IRM2","p":3},
    {"r":"TAK3","c":"HPLP","p":3},{"r":"TAK3","c":"HPSS","p":3},{"r":"TAK3","c":"RPCA","p":3},{"r":"TAK3","c":"HEL1","p":3},{"r":"TAK3","c":"REP1","p":3},{"r":"TAK3","c":"2DFT","p":3},{"r":"TAK3","c":"MIX","p":3},{"r":"TAK3","c":"MELO","p":3},{"r":"TAK3","c":"REP2","p":3},{"r":"TAK3","c":"RGT2","p":3},{"r":"TAK3","c":"STL2","p":3},{"r":"TAK3","c":"WK","p":3},{"r":"TAK3","c":"RGT1","p":3},{"r":"TAK3","c":"MDLT","p":3},{"r":"TAK3","c":"MDL1","p":3},{"r":"TAK3","c":"STL1","p":3},{"r":"TAK3","c":"JY1","p":2},{"r":"TAK3","c":"JY2","p":2},{"r":"TAK3","c":"JY3","p":1},{"r":"TAK3","c":"UHL1","p":2},{"r":"TAK3","c":"UHL2","p":1},{"r":"TAK3","c":"UHL3","p":0},{"r":"TAK3","c":"TAK1","p":0},{"r":"TAK3","c":"TAK3","p":-1},{"r":"TAK3","c":"TAU1","p":0},{"r":"TAK3","c":"TAK2","p":0},{"r":"TAK3","c":"IBM1","p":1},{"r":"TAK3","c":"IBM2","p":1},{"r":"TAK3","c":"Oracle","p":0},{"r":"TAK3","c":"IRM1","p":3},{"r":"TAK3","c":"MWF","p":3},{"r":"TAK3","c":"IRM2","p":3},
    {"r":"TAU1","c":"HPLP","p":3},{"r":"TAU1","c":"HPSS","p":3},{"r":"TAU1","c":"RPCA","p":3},{"r":"TAU1","c":"HEL1","p":3},{"r":"TAU1","c":"REP1","p":3},{"r":"TAU1","c":"2DFT","p":3},{"r":"TAU1","c":"MIX","p":3},{"r":"TAU1","c":"MELO","p":3},{"r":"TAU1","c":"REP2","p":3},{"r":"TAU1","c":"RGT2","p":3},{"r":"TAU1","c":"STL2","p":3},{"r":"TAU1","c":"WK","p":3},{"r":"TAU1","c":"RGT1","p":3},{"r":"TAU1","c":"MDLT","p":3},{"r":"TAU1","c":"MDL1","p":3},{"r":"TAU1","c":"STL1","p":3},{"r":"TAU1","c":"JY1","p":3},{"r":"TAU1","c":"JY2","p":2},{"r":"TAU1","c":"JY3","p":2},{"r":"TAU1","c":"UHL1","p":2},{"r":"TAU1","c":"UHL2","p":2},{"r":"TAU1","c":"UHL3","p":0},{"r":"TAU1","c":"TAK1","p":0},{"r":"TAU1","c":"TAK3","p":0},{"r":"TAU1","c":"TAU1","p":-1},{"r":"TAU1","c":"TAK2","p":0},{"r":"TAU1","c":"IBM1","p":0},{"r":"TAU1","c":"IBM2","p":0},{"r":"TAU1","c":"Oracle","p":0},{"r":"TAU1","c":"IRM1","p":2},{"r":"TAU1","c":"MWF","p":3},{"r":"TAU1","c":"IRM2","p":3},
    {"r":"TAK2","c":"HPLP","p":3},{"r":"TAK2","c":"HPSS","p":3},{"r":"TAK2","c":"RPCA","p":3},{"r":"TAK2","c":"HEL1","p":3},{"r":"TAK2","c":"REP1","p":3},{"r":"TAK2","c":"2DFT","p":3},{"r":"TAK2","c":"MIX","p":3},{"r":"TAK2","c":"MELO","p":3},{"r":"TAK2","c":"REP2","p":3},{"r":"TAK2","c":"RGT2","p":3},{"r":"TAK2","c":"STL2","p":3},{"r":"TAK2","c":"WK","p":3},{"r":"TAK2","c":"RGT1","p":3},{"r":"TAK2","c":"MDLT","p":3},{"r":"TAK2","c":"MDL1","p":3},{"r":"TAK2","c":"STL1","p":3},{"r":"TAK2","c":"JY1","p":3},{"r":"TAK2","c":"JY2","p":2},{"r":"TAK2","c":"JY3","p":2},{"r":"TAK2","c":"UHL1","p":2},{"r":"TAK2","c":"UHL2","p":2},{"r":"TAK2","c":"UHL3","p":0},{"r":"TAK2","c":"TAK1","p":0},{"r":"TAK2","c":"TAK3","p":0},{"r":"TAK2","c":"TAU1","p":0},{"r":"TAK2","c":"TAK2","p":-1},{"r":"TAK2","c":"IBM1","p":0},{"r":"TAK2","c":"IBM2","p":0},{"r":"TAK2","c":"Oracle","p":0},{"r":"TAK2","c":"IRM1","p":2},{"r":"TAK2","c":"MWF","p":3},{"r":"TAK2","c":"IRM2","p":3},
    {"r":"IBM1","c":"HPLP","p":3},{"r":"IBM1","c":"HPSS","p":3},{"r":"IBM1","c":"RPCA","p":3},{"r":"IBM1","c":"HEL1","p":3},{"r":"IBM1","c":"REP1","p":3},{"r":"IBM1","c":"2DFT","p":3},{"r":"IBM1","c":"MIX","p":3},{"r":"IBM1","c":"MELO","p":3},{"r":"IBM1","c":"REP2","p":3},{"r":"IBM1","c":"RGT2","p":3},{"r":"IBM1","c":"STL2","p":3},{"r":"IBM1","c":"WK","p":3},{"r":"IBM1","c":"RGT1","p":3},{"r":"IBM1","c":"MDLT","p":3},{"r":"IBM1","c":"MDL1","p":3},{"r":"IBM1","c":"STL1","p":3},{"r":"IBM1","c":"JY1","p":3},{"r":"IBM1","c":"JY2","p":3},{"r":"IBM1","c":"JY3","p":3},{"r":"IBM1","c":"UHL1","p":3},{"r":"IBM1","c":"UHL2","p":3},{"r":"IBM1","c":"UHL3","p":2},{"r":"IBM1","c":"TAK1","p":3},{"r":"IBM1","c":"TAK3","p":1},{"r":"IBM1","c":"TAU1","p":0},{"r":"IBM1","c":"TAK2","p":0},{"r":"IBM1","c":"IBM1","p":-1},{"r":"IBM1","c":"IBM2","p":0},{"r":"IBM1","c":"Oracle","p":0},{"r":"IBM1","c":"IRM1","p":0},{"r":"IBM1","c":"MWF","p":1},{"r":"IBM1","c":"IRM2","p":2},
    {"r":"IBM2","c":"HPLP","p":3},{"r":"IBM2","c":"HPSS","p":3},{"r":"IBM2","c":"RPCA","p":3},{"r":"IBM2","c":"HEL1","p":3},{"r":"IBM2","c":"REP1","p":3},{"r":"IBM2","c":"2DFT","p":3},{"r":"IBM2","c":"MIX","p":3},{"r":"IBM2","c":"MELO","p":3},{"r":"IBM2","c":"REP2","p":3},{"r":"IBM2","c":"RGT2","p":3},{"r":"IBM2","c":"STL2","p":3},{"r":"IBM2","c":"WK","p":3},{"r":"IBM2","c":"RGT1","p":3},{"r":"IBM2","c":"MDLT","p":3},{"r":"IBM2","c":"MDL1","p":3},{"r":"IBM2","c":"STL1","p":3},{"r":"IBM2","c":"JY1","p":3},{"r":"IBM2","c":"JY2","p":3},{"r":"IBM2","c":"JY3","p":3},{"r":"IBM2","c":"UHL1","p":3},{"r":"IBM2","c":"UHL2","p":3},{"r":"IBM2","c":"UHL3","p":2},{"r":"IBM2","c":"TAK1","p":3},{"r":"IBM2","c":"TAK3","p":1},{"r":"IBM2","c":"TAU1","p":0},{"r":"IBM2","c":"TAK2","p":0},{"r":"IBM2","c":"IBM1","p":0},{"r":"IBM2","c":"IBM2","p":-1},{"r":"IBM2","c":"Oracle","p":0},{"r":"IBM2","c":"IRM1","p":0},{"r":"IBM2","c":"MWF","p":1},{"r":"IBM2","c":"IRM2","p":2},
    {"r":"Oracle","c":"HPLP","p":3},{"r":"Oracle","c":"HPSS","p":3},{"r":"Oracle","c":"RPCA","p":3},{"r":"Oracle","c":"HEL1","p":3},{"r":"Oracle","c":"REP1","p":3},{"r":"Oracle","c":"2DFT","p":3},{"r":"Oracle","c":"MIX","p":2},{"r":"Oracle","c":"MELO","p":2},{"r":"Oracle","c":"REP2","p":2},{"r":"Oracle","c":"RGT2","p":1},{"r":"Oracle","c":"STL2","p":1},{"r":"Oracle","c":"WK","p":1},{"r":"Oracle","c":"RGT1","p":1},{"r":"Oracle","c":"MDLT","p":1},{"r":"Oracle","c":"MDL1","p":1},{"r":"Oracle","c":"STL1","p":0},{"r":"Oracle","c":"JY1","p":0},{"r":"Oracle","c":"JY2","p":0},{"r":"Oracle","c":"JY3","p":0},{"r":"Oracle","c":"UHL1","p":0},{"r":"Oracle","c":"UHL2","p":0},{"r":"Oracle","c":"UHL3","p":0},{"r":"Oracle","c":"TAK1","p":0},{"r":"Oracle","c":"TAK3","p":0},{"r":"Oracle","c":"TAU1","p":0},{"r":"Oracle","c":"TAK2","p":0},{"r":"Oracle","c":"IBM1","p":0},{"r":"Oracle","c":"IBM2","p":0},{"r":"Oracle","c":"Oracle","p":-1},{"r":"Oracle","c":"IRM1","p":0},{"r":"Oracle","c":"MWF","p":0},{"r":"Oracle","c":"IRM2","p":0},
    {"r":"IRM1","c":"HPLP","p":3},{"r":"IRM1","c":"HPSS","p":3},{"r":"IRM1","c":"RPCA","p":3},{"r":"IRM1","c":"HEL1","p":3},{"r":"IRM1","c":"REP1","p":3},{"r":"IRM1","c":"2DFT","p":3},{"r":"IRM1","c":"MIX","p":3},{"r":"IRM1","c":"MELO","p":3},{"r":"IRM1","c":"REP2","p":3},{"r":"IRM1","c":"RGT2","p":3},{"r":"IRM1","c":"STL2","p":3},{"r":"IRM1","c":"WK","p":3},{"r":"IRM1","c":"RGT1","p":3},{"r":"IRM1","c":"MDLT","p":3},{"r":"IRM1","c":"MDL1","p":3},{"r":"IRM1","c":"STL1","p":3},{"r":"IRM1","c":"JY1","p":3},{"r":"IRM1","c":"JY2","p":3},{"r":"IRM1","c":"JY3","p":3},{"r":"IRM1","c":"UHL1","p":3},{"r":"IRM1","c":"UHL2","p":3},{"r":"IRM1","c":"UHL3","p":3},{"r":"IRM1","c":"TAK1","p":3},{"r":"IRM1","c":"TAK3","p":3},{"r":"IRM1","c":"TAU1","p":2},{"r":"IRM1","c":"TAK2","p":2},{"r":"IRM1","c":"IBM1","p":0},{"r":"IRM1","c":"IBM2","p":0},{"r":"IRM1","c":"Oracle","p":0},{"r":"IRM1","c":"IRM1","p":-1},{"r":"IRM1","c":"MWF","p":0},{"r":"IRM1","c":"IRM2","p":0},
    {"r":"MWF","c":"HPLP","p":3},{"r":"MWF","c":"HPSS","p":3},{"r":"MWF","c":"RPCA","p":3},{"r":"MWF","c":"HEL1","p":3},{"r":"MWF","c":"REP1","p":3},{"r":"MWF","c":"2DFT","p":3},{"r":"MWF","c":"MIX","p":3},{"r":"MWF","c":"MELO","p":3},{"r":"MWF","c":"REP2","p":3},{"r":"MWF","c":"RGT2","p":3},{"r":"MWF","c":"STL2","p":3},{"r":"MWF","c":"WK","p":3},{"r":"MWF","c":"RGT1","p":3},{"r":"MWF","c":"MDLT","p":3},{"r":"MWF","c":"MDL1","p":3},{"r":"MWF","c":"STL1","p":3},{"r":"MWF","c":"JY1","p":3},{"r":"MWF","c":"JY2","p":3},{"r":"MWF","c":"JY3","p":3},{"r":"MWF","c":"UHL1","p":3},{"r":"MWF","c":"UHL2","p":3},{"r":"MWF","c":"UHL3","p":3},{"r":"MWF","c":"TAK1","p":3},{"r":"MWF","c":"TAK3","p":3},{"r":"MWF","c":"TAU1","p":3},{"r":"MWF","c":"TAK2","p":3},{"r":"MWF","c":"IBM1","p":1},{"r":"MWF","c":"IBM2","p":1},{"r":"MWF","c":"Oracle","p":0},{"r":"MWF","c":"IRM1","p":0},{"r":"MWF","c":"MWF","p":-1},{"r":"MWF","c":"IRM2","p":0},
    {"r":"IRM2","c":"HPLP","p":3},{"r":"IRM2","c":"HPSS","p":3},{"r":"IRM2","c":"RPCA","p":3},{"r":"IRM2","c":"HEL1","p":3},{"r":"IRM2","c":"REP1","p":3},{"r":"IRM2","c":"2DFT","p":3},{"r":"IRM2","c":"MIX","p":3},{"r":"IRM2","c":"MELO","p":3},{"r":"IRM2","c":"REP2","p":3},{"r":"IRM2","c":"RGT2","p":3},{"r":"IRM2","c":"STL2","p":3},{"r":"IRM2","c":"WK","p":3},{"r":"IRM2","c":"RGT1","p":3},{"r":"IRM2","c":"MDLT","p":3},{"r":"IRM2","c":"MDL1","p":3},{"r":"IRM2","c":"STL1","p":3},{"r":"IRM2","c":"JY1","p":3},{"r":"IRM2","c":"JY2","p":3},{"r":"IRM2","c":"JY3","p":3},{"r":"IRM2","c":"UHL1","p":3},{"r":"IRM2","c":"UHL2","p":3},{"r":"IRM2","c":"UHL3","p":3},{"r":"IRM2","c":"TAK1","p":3},{"r":"IRM2","c":"TAK3","p":3},{"r":"IRM2","c":"TAU1","p":3},{"r":"IRM2","c":"TAK2","p":3},{"r":"IRM2","c":"IBM1","p":2},{"r":"IRM2","c":"IBM2","p":2},{"r":"IRM2","c":"Oracle","p":0},{"r":"IRM2","c":"IRM1","p":0},{"r":"IRM2","c":"MWF","p":0},{"r":"IRM2","c":"IRM2","p":-1}
  ]},
  "mark": {"type": "rect", "stroke": "#808080", "strokeWidth": 2},
  "encoding": {
    "x": {
      "field": "c", "type": "nominal",
      "sort": ["HPLP","HPSS","RPCA","HEL1","REP1","2DFT","MIX","MELO","REP2","RGT2","STL2","WK","RGT1","MDLT","MDL1","STL1","JY1","JY2","JY3","UHL1","UHL2","UHL3","TAK1","TAK3","TAU1","TAK2","IBM1","IBM2","Oracle","IRM1","MWF","IRM2"],
      "scale": {"paddingInner": 0, "paddingOuter": 0},
      "axis": {"title": null, "labelAngle": -90, "labelFontSize": 21, "labelFont": "DejaVu Sans", "labelColor": "#000000", "domain": false, "tickColor": "#000000", "tickSize": 5, "tickWidth": 1.2, "labelPadding": 3, "labelOverlap": false, "labelBound": false}
    },
    "y": {
      "field": "r", "type": "nominal",
      "sort": ["HPLP","HPSS","RPCA","HEL1","REP1","2DFT","MIX","MELO","REP2","RGT2","STL2","WK","RGT1","MDLT","MDL1","STL1","JY1","JY2","JY3","UHL1","UHL2","UHL3","TAK1","TAK3","TAU1","TAK2","IBM1","IBM2","Oracle","IRM1","MWF","IRM2"],
      "scale": {"paddingInner": 0, "paddingOuter": 0},
      "axis": {"title": null, "values": ["HPLP","RPCA","REP1","MIX","REP2","STL2","RGT1","MDL1","JY1","JY3","UHL2","TAK1","TAU1","IBM1","Oracle","MWF"], "labelFontSize": 21, "labelFont": "DejaVu Sans", "labelColor": "#000000", "domain": false, "tickColor": "#000000", "tickSize": 5, "tickWidth": 1.2, "labelPadding": 12, "labelOverlap": false, "labelBound": false}
    },
    "color": {
      "condition": {"test": "datum.p < 0", "value": "#ffffff"},
      "field": "p", "type": "ordinal",
      "scale": {"domain": [0, 1, 2, 3], "range": ["#fbd4d0", "#a1d99b", "#238b45", "#00572e"]},
      "legend": {"orient": "none", "legendX": 740, "legendY": 198, "title": null, "padding": 0, "symbolType": "M-0.6,-1H0.6V1H-0.6Z", "symbolSize": 4032, "symbolStrokeWidth": 0, "symbolOpacity": 1, "rowPadding": 0, "labelFontSize": 20, "labelFont": "DejaVu Sans", "labelColor": "#000000", "labelOffset": -7, "labelExpr": "['NS', 'p < 0.05', 'p < 0.01', 'p < 0.001'][datum.value]"}
    }
  }
}
